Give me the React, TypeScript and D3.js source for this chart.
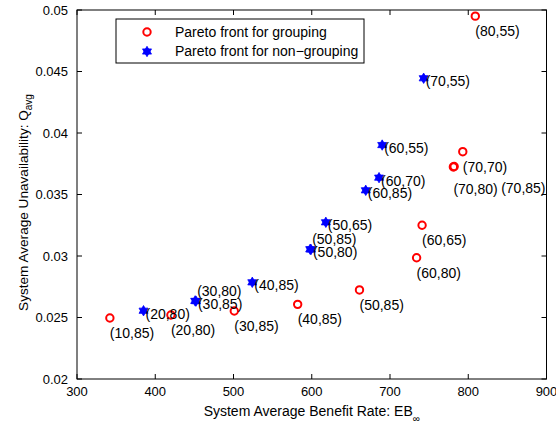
import React from 'react';
import * as d3 from 'd3';

// Pareto front for grouping (red circles)
const groupLabels = ['(10,85)', '(20,80)', '(30,85)', '(40,85)', '(50,85)', '(60,80)', '(60,65)', '(70,80)', '(70,85)', '(70,70)', '(80,55)'];
const groupEB = [342, 420, 501, 582, 661, 734, 741, 781, 782, 793, 809];
const groupQ = [0.02496, 0.0252, 0.02553, 0.02607, 0.02724, 0.02986, 0.0325, 0.03724, 0.03728, 0.03848, 0.0495];

// Pareto front for non-grouping (blue hexagrams)
const nonGroupLabels = ['(20,80)', '(30,80)', '(30,85)', '(40,85)', '(50,85)', '(50,80)', '(50,65)', '(60,85)', '(60,70)', '(60,55)', '(70,55)'];
const nonGroupEB = [385, 451, 452, 524, 598, 599, 618, 669, 686, 690, 743];
const nonGroupQ = [0.02555, 0.02635, 0.02633, 0.02786, 0.03055, 0.03053, 0.03274, 0.03534, 0.03637, 0.03902, 0.04445];

const xTicks = [300, 400, 500, 600, 700, 800, 900];
const yTicks = [0.02, 0.025, 0.03, 0.035, 0.04, 0.045, 0.05];
const legendLabels = ['Pareto front for grouping', 'Pareto front for non\u2212grouping'];

// label placement offsets (pixels) for annotations that were moved to avoid overlaps
const groupLabelOffsets: Record<string, [number, number]> = {
  '(70,80)': [0, 22],
  '(70,85)': [47, 22],
};
const nonGroupLabelOffsets: Record<string, [number, number]> = {
  '(30,80)': [2, -10],
  '(50,85)': [2, -10],
};

const W = 556;
const H = 423;
const M = { left: 77, right: 9.5, top: 10, bottom: 44 };
const FONT = 'Liberation Sans, Arial, Helvetica, sans-serif';

function hexagram(r: number): string {
  const pts = (rot: number) =>
    d3.range(3).map((i) => {
      const a = rot + (i * 2 * Math.PI) / 3;
      return [r * Math.sin(a), -r * Math.cos(a)];
    });
  const tri = (p: number[][]) => 'M' + p.map((q) => q[0].toFixed(2) + ',' + q[1].toFixed(2)).join('L') + 'Z';
  return tri(pts(0)) + tri(pts(Math.PI));
}

export default function App() {
  const x = d3.scaleLinear().domain([300, 900]).range([M.left, W - M.right]);
  const y = d3.scaleLinear().domain([0.02, 0.05]).range([H - M.bottom, M.top]);
  const x0 = x.range()[0], x1 = x.range()[1];
  const y0 = y.range()[0], y1 = y.range()[1];
  const star = hexagram(5.2);
  const tickLen = 5;

  return (
    <svg width={W} height={H} style={{ position: 'absolute', left: 0, top: 0, background: '#fff' }} fontFamily={FONT}>
      <rect x={0} y={0} width={W} height={H} fill="#fff" />
      {/* ticks */}
      {xTicks.map((t) => (
        <g key={'xt' + t}>
          <line x1={x(t)} x2={x(t)} y1={y0} y2={y0 - tickLen} stroke="#000" strokeWidth={1} />
          <line x1={x(t)} x2={x(t)} y1={y1} y2={y1 + tickLen} stroke="#000" strokeWidth={1} />
          <text x={x(t)} y={y0 + 17} textAnchor="middle" fontSize={13}>{t}</text>
        </g>
      ))}
      {yTicks.map((t) => (
        <g key={'yt' + t}>
          <line x1={x0} x2={x0 + tickLen} y1={y(t)} y2={y(t)} stroke="#000" strokeWidth={1} />
          <line x1={x1} x2={x1 - tickLen} y1={y(t)} y2={y(t)} stroke="#000" strokeWidth={1} />
          <text x={x0 - 9} y={y(t)} dy="0.35em" textAnchor="end" fontSize={13}>{String(t)}</text>
        </g>
      ))}
      <rect x={x0} y={y1} width={x1 - x0} height={y0 - y1} fill="none" stroke="#000" strokeWidth={1} />

      {/* axis labels */}
      <text x={(x0 + x1) / 2} y={416} textAnchor="middle" fontSize={14}>
        System Average Benefit Rate: EB<tspan fontSize={10} dy={6}>∞</tspan>
      </text>
      <text transform={`translate(28,${(y0 + y1) / 2 + 8}) rotate(-90)`} textAnchor="middle" fontSize={13.6}>
        System Average Unavailability: Q<tspan fontSize={10} dy={4}>avg</tspan>
      </text>

      {/* grouping points */}
      {groupEB.map((v, i) => (
        <circle key={'g' + i} cx={x(v)} cy={y(groupQ[i])} r={3.7} fill="none" stroke="#ff0000" strokeWidth={2} />
      ))}
      {groupEB.map((v, i) => {
        const off = groupLabelOffsets[groupLabels[i]] || [0, 15];
        return (
          <text key={'gl' + i} x={x(v) + off[0]} y={y(groupQ[i]) + off[1]} dy="0.35em" fontSize={14}>
            {groupLabels[i]}
          </text>
        );
      })}

      {/* non-grouping points */}
      {nonGroupEB.map((v, i) => (
        <path key={'n' + i} d={star} transform={`translate(${x(v)},${y(nonGroupQ[i])})`} fill="#0000ff" stroke="#0000ff" strokeWidth={0.8} />
      ))}
      {nonGroupEB.map((v, i) => {
        const off = nonGroupLabelOffsets[nonGroupLabels[i]] || [2, 3];
        return (
          <text key={'nl' + i} x={x(v) + off[0]} y={y(nonGroupQ[i]) + off[1]} dy="0.35em" fontSize={14}>
            {nonGroupLabels[i]}
          </text>
        );
      })}

      {/* legend */}
      <rect x={116} y={19} width={248} height={44} fill="#fff" stroke="#000" strokeWidth={1} />
      <circle cx={147} cy={32} r={3.7} fill="none" stroke="#ff0000" strokeWidth={2} />
      <text x={175} y={32} dy="0.35em" fontSize={14}>{legendLabels[0]}</text>
      <path d={star} transform="translate(147,51.5)" fill="#0000ff" stroke="#0000ff" strokeWidth={0.8} />
      <text x={175} y={51.5} dy="0.35em" fontSize={14}>{legendLabels[1]}</text>
    </svg>
  );
}
